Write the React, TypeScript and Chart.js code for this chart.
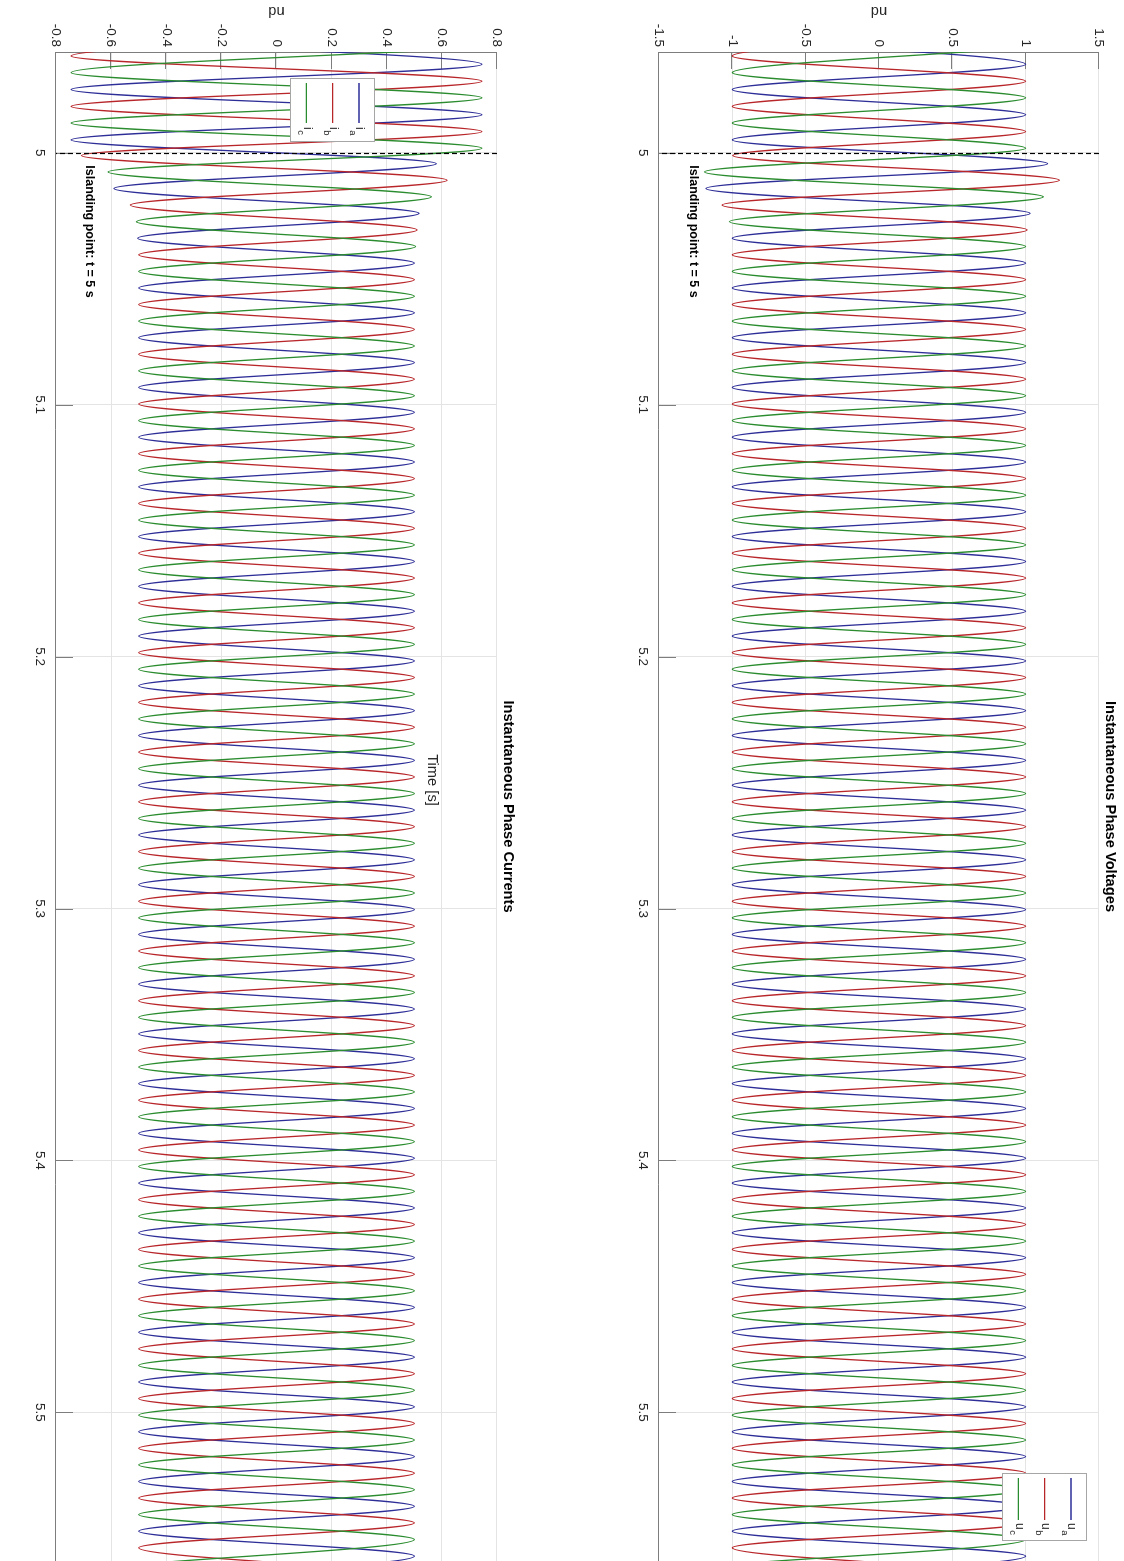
import React, { useEffect, useRef } from "react";
import { Chart, registerables } from "chart.js";

Chart.register(...registerables);

// ---------------- data ----------------
const TIME_TICKS = [5, 5.1, 5.2, 5.3, 5.4, 5.5];
const TIME_TICK_LABELS = ["5", "5.1", "5.2", "5.3", "5.4", "5.5"];
const VOLT_TICKS = [-1.5, -1, -0.5, 0, 0.5, 1, 1.5];
const VOLT_TICK_LABELS = ["-1.5", "-1", "-0.5", "0", "0.5", "1", "1.5"];
const CURR_TICKS = [-0.8, -0.6, -0.4, -0.2, 0, 0.2, 0.4, 0.6, 0.8];
const CURR_TICK_LABELS = ["-0.8", "-0.6", "-0.4", "-0.2", "0", "0.2", "0.4", "0.6", "0.8"];
const TIME_RANGE = [4.96, 5.559];
const VOLT_RANGE = [-1.5, 1.5];
const CURR_RANGE = [-0.8, 0.8];
const ISLANDING_TIME = 5;
const NOTE_TEXT = "Islanding point: t = 5 s";
const NOTE_POS_VOLT = [5.005, -1.265];
const NOTE_POS_CURR = [5.005, -0.68];
const TIME_LABEL = "Time [s]";
const PHASE_KEYS = ["a", "b", "c"];

// times (s) of the successive peaks / troughs of each phase
const PHASE_A_TIMES = [
  4.9549, 4.9649, 4.9749, 4.9849, 4.9949,
  5.00432, 5.01419, 5.02406, 5.03393, 5.0438, 5.05367, 5.06354, 5.07341, 5.08328, 5.09315,
  5.10302, 5.11289, 5.12276, 5.13263, 5.1425, 5.15237, 5.16224, 5.17211, 5.18198, 5.19185,
  5.20172, 5.21159, 5.22146, 5.23133, 5.2412, 5.25107, 5.26094, 5.27081, 5.28068, 5.29055,
  5.30042, 5.31029, 5.32016, 5.33003, 5.3399, 5.34977, 5.35964, 5.36951, 5.37938, 5.38925,
  5.39912, 5.40899, 5.41886, 5.42873, 5.4386, 5.44847, 5.45834, 5.46821, 5.47808, 5.48795,
  5.49782, 5.50769, 5.51756, 5.52743, 5.5373, 5.54717, 5.55704, 5.56691,
];
const PHASE_B_TIMES = [
  4.9516, 4.9616, 4.9716, 4.9816, 4.9916, 5.0011,
  5.0109, 5.02077, 5.03064, 5.04051, 5.05038, 5.06025, 5.07012, 5.07999, 5.08986, 5.09973,
  5.1096, 5.11947, 5.12934, 5.13921, 5.14908, 5.15895, 5.16882, 5.17869, 5.18856, 5.19843,
  5.2083, 5.21817, 5.22804, 5.23791, 5.24778, 5.25765, 5.26752, 5.27739, 5.28726, 5.29713,
  5.307, 5.31687, 5.32674, 5.33661, 5.34648, 5.35635, 5.36622, 5.37609, 5.38596, 5.39583,
  5.4057, 5.41557, 5.42544, 5.43531, 5.44518, 5.45505, 5.46492, 5.47479, 5.48466, 5.49453,
  5.5044, 5.51427, 5.52414, 5.53401, 5.54388, 5.55375, 5.56362,
];
const PHASE_C_TIMES = [
  4.9582, 4.9682, 4.9782, 4.9882, 4.9982,
  5.00761, 5.01748, 5.02735, 5.03722, 5.04709, 5.05696, 5.06683, 5.0767, 5.08657, 5.09644,
  5.10631, 5.11618, 5.12605, 5.13592, 5.14579, 5.15566, 5.16553, 5.1754, 5.18527, 5.19514,
  5.20501, 5.21488, 5.22475, 5.23462, 5.24449, 5.25436, 5.26423, 5.2741, 5.28397, 5.29384,
  5.30371, 5.31358, 5.32345, 5.33332, 5.34319, 5.35306, 5.36293, 5.3728, 5.38267, 5.39254,
  5.40241, 5.41228, 5.42215, 5.43202, 5.44189, 5.45176, 5.46163, 5.4715, 5.48137, 5.49124,
  5.50111, 5.51098, 5.52085, 5.53072, 5.54059, 5.55046, 5.56033,
];

// voltage peak values (pu)
const VOLT_A = [
  -1, 1, -1, 1, -1,
  1.15, -1.18, 1.03, -1, 1, -1, 1, -1, 1, -1,
  1, -1, 1, -1, 1, -1, 1, -1, 1, -1,
  1, -1, 1, -1, 1, -1, 1, -1, 1, -1,
  1, -1, 1, -1, 1, -1, 1, -1, 1, -1,
  1, -1, 1, -1, 1, -1, 1, -1, 1, -1,
  1, -1, 1, -1, 1, -1, 1, -1,
];
const VOLT_B = [
  1, -1, 1, -1, 1, -0.997,
  1.23, -1.07, 1.01, -1, 1, -1, 1, -1, 1, -1,
  1, -1, 1, -1, 1, -1, 1, -1, 1, -1,
  1, -1, 1, -1, 1, -1, 1, -1, 1, -1,
  1, -1, 1, -1, 1, -1, 1, -1, 1, -1,
  1, -1, 1, -1, 1, -1, 1, -1, 1, -1,
  1, -1, 1, -1, 1, -1, 1,
];
const VOLT_C = [
  1, -1, 1, -1, 1,
  -1.19, 1.12, -1.02, 1, -1, 1, -1, 1, -1, 1,
  -1, 1, -1, 1, -1, 1, -1, 1, -1, 1,
  -1, 1, -1, 1, -1, 1, -1, 1, -1, 1,
  -1, 1, -1, 1, -1, 1, -1, 1, -1, 1,
  -1, 1, -1, 1, -1, 1, -1, 1, -1, 1,
  -1, 1, -1, 1, -1, 1, -1,
];

// current peak values (pu)
const CURR_A = [
  -0.745, 0.745, -0.745, 0.745, -0.745,
  0.58, -0.59, 0.517, -0.504, 0.5, -0.5, 0.5, -0.5, 0.5, -0.5,
  0.5, -0.5, 0.5, -0.5, 0.5, -0.5, 0.5, -0.5, 0.5, -0.5,
  0.5, -0.5, 0.5, -0.5, 0.5, -0.5, 0.5, -0.5, 0.5, -0.5,
  0.5, -0.5, 0.5, -0.5, 0.5, -0.5, 0.5, -0.5, 0.5, -0.5,
  0.5, -0.5, 0.5, -0.5, 0.5, -0.5, 0.5, -0.5, 0.5, -0.5,
  0.5, -0.5, 0.5, -0.5, 0.5, -0.5, 0.5, -0.5,
];
const CURR_B = [
  0.745, -0.745, 0.745, -0.745, 0.745, -0.708,
  0.619, -0.53, 0.51, -0.5, 0.5, -0.5, 0.5, -0.5, 0.5, -0.5,
  0.5, -0.5, 0.5, -0.5, 0.5, -0.5, 0.5, -0.5, 0.5, -0.5,
  0.5, -0.5, 0.5, -0.5, 0.5, -0.5, 0.5, -0.5, 0.5, -0.5,
  0.5, -0.5, 0.5, -0.5, 0.5, -0.5, 0.5, -0.5, 0.5, -0.5,
  0.5, -0.5, 0.5, -0.5, 0.5, -0.5, 0.5, -0.5, 0.5, -0.5,
  0.5, -0.5, 0.5, -0.5, 0.5, -0.5, 0.5,
];
const CURR_C = [
  0.745, -0.745, 0.745, -0.745, 0.745,
  -0.611, 0.562, -0.508, 0.505, -0.5, 0.5, -0.5, 0.5, -0.5, 0.5,
  -0.5, 0.5, -0.5, 0.5, -0.5, 0.5, -0.5, 0.5, -0.5, 0.5,
  -0.5, 0.5, -0.5, 0.5, -0.5, 0.5, -0.5, 0.5, -0.5, 0.5,
  -0.5, 0.5, -0.5, 0.5, -0.5, 0.5, -0.5, 0.5, -0.5, 0.5,
  -0.5, 0.5, -0.5, 0.5, -0.5, 0.5, -0.5, 0.5, -0.5, 0.5,
  -0.5, 0.5, -0.5, 0.5, -0.5, 0.5, -0.5,
];

// ---------------- styles / layout ----------------
const FONT = "'Liberation Sans', Arial, Helvetica, sans-serif";
const PHASE_COLORS = ["#2e2e98", "#b8262a", "#2a8c2e"];
const GRID_COLOR = "#e4e4e4";
const AXIS_COLOR = "#7d7d7d";
const TEXT_COLOR = "#262626";
const FIG_W = 1561;
const FIG_H = 1124;
const PANEL_H = 562;
const Y_AXIS_W = 52;
const TICK_LEN = 17;

type Panel = any;

const VOLT_PANEL: Panel = {
  title: "Instantaneous Phase Voltages",
  symbol: "u",
  yTicks: VOLT_TICKS,
  yLabels: VOLT_TICK_LABELS,
  yRange: VOLT_RANGE,
  values: [VOLT_A, VOLT_B, VOLT_C],
  note: NOTE_POS_VOLT,
  padTop: 25,
  xAxisH: 97,
  xLabel: null,
  legend: { x: 1473, y: 37, w: 67, h: 84, l0: 1478, l1: 1520, tx: 1523, rows: [16, 42.3, 68.6] },
};

const CURR_PANEL: Panel = {
  title: "Instantaneous Phase Currents",
  symbol: "i",
  yTicks: CURR_TICKS,
  yLabels: CURR_TICK_LABELS,
  yRange: CURR_RANGE,
  values: [CURR_A, CURR_B, CURR_C],
  note: NOTE_POS_CURR,
  padTop: 65,
  xAxisH: 56,
  xLabel: { text: TIME_LABEL, x: 780, y: 130 },
  legend: { x: 78, y: 187, w: 63, h: 84, l0: 83, l1: 123, tx: 127, rows: [16, 42.3, 68.6] },
};

const PHASE_TIMES = [PHASE_A_TIMES, PHASE_B_TIMES, PHASE_C_TIMES];

function overlayPlugin(p: Panel) {
  return {
    id: "overlay",
    beforeDatasetsDraw(chart: any) {
      const { ctx, chartArea: a, scales } = chart;
      const x = scales.x;
      const y = scales.y;
      ctx.save();
      ctx.strokeStyle = AXIS_COLOR;
      ctx.lineWidth = 1;
      ctx.beginPath();
      for (const t of TIME_TICKS) {
        const px = Math.round(x.getPixelForValue(t)) + 0.5;
        ctx.moveTo(px, a.bottom);
        ctx.lineTo(px, a.bottom - TICK_LEN);
      }
      for (const v of p.yTicks) {
        const py = Math.round(y.getPixelForValue(v)) + 0.5;
        ctx.moveTo(a.left, py);
        ctx.lineTo(a.left + TICK_LEN, py);
      }
      ctx.stroke();
      ctx.restore();
    },
    afterDatasetsDraw(chart: any) {
      const { ctx, chartArea: a, scales } = chart;
      const x = scales.x;
      const y = scales.y;
      ctx.save();
      // islanding dashed line
      const xi = Math.round(x.getPixelForValue(ISLANDING_TIME)) + 0.5;
      ctx.strokeStyle = "#000";
      ctx.lineWidth = 1.2;
      ctx.setLineDash([5, 3]);
      ctx.beginPath();
      ctx.moveTo(xi, a.top);
      ctx.lineTo(xi, a.bottom);
      ctx.stroke();
      ctx.setLineDash([]);
      // annotation
      ctx.fillStyle = "#000";
      ctx.font = `bold 12.5px ${FONT}`;
      ctx.textAlign = "left";
      ctx.textBaseline = "middle";
      ctx.fillText(NOTE_TEXT, x.getPixelForValue(p.note[0]), y.getPixelForValue(p.note[1]));
      // legend
      const L = p.legend;
      ctx.fillStyle = "#fff";
      ctx.fillRect(L.x, L.y, L.w, L.h);
      ctx.strokeStyle = "#a6a6a6";
      ctx.lineWidth = 1;
      ctx.strokeRect(L.x + 0.5, L.y + 0.5, L.w, L.h);
      PHASE_KEYS.forEach((k, i) => {
        const ry = L.y + L.rows[i];
        ctx.strokeStyle = PHASE_COLORS[i];
        ctx.lineWidth = 1.3;
        ctx.beginPath();
        ctx.moveTo(L.l0, ry);
        ctx.lineTo(L.l1, ry);
        ctx.stroke();
        ctx.fillStyle = TEXT_COLOR;
        ctx.textBaseline = "alphabetic";
        ctx.font = `12px ${FONT}`;
        ctx.fillText(p.symbol, L.tx, ry + 2.5);
        const w = ctx.measureText(p.symbol).width;
        ctx.font = `9.5px ${FONT}`;
        ctx.fillText(k, L.tx + w + 0.5, ry + 8.5);
      });
      ctx.restore();
    },
    afterDraw(chart: any) {
      const { ctx, chartArea: a } = chart;
      ctx.save();
      ctx.fillStyle = "#000";
      ctx.font = `bold 14.7px ${FONT}`;
      ctx.textAlign = "center";
      ctx.textBaseline = "middle";
      ctx.fillText(p.title, (a.left + a.right) / 2, a.top - 11.5);
      if (p.xLabel) {
        ctx.fillStyle = TEXT_COLOR;
        ctx.font = `14.7px ${FONT}`;
        ctx.fillText(p.xLabel.text, p.xLabel.x, p.xLabel.y);
      }
      ctx.restore();
    },
  };
}

function makeChart(canvas: HTMLCanvasElement, p: Panel) {
  const datasets = [0, 1, 2].map((k) => ({
    label: p.symbol + PHASE_KEYS[k],
    data: PHASE_TIMES[k].map((t: number, i: number) => ({ x: t, y: p.values[k][i] })),
    borderColor: PHASE_COLORS[k],
    borderWidth: 1.3,
    pointRadius: 0,
    fill: false,
    cubicInterpolationMode: "monotone",
    order: 3 - k,
  }));
  const cfg: any = {
    type: "line",
    data: { datasets },
    options: {
      responsive: false,
      animation: false,
      devicePixelRatio: 1,
      events: [],
      layout: { padding: { top: p.padTop, left: 0, right: 0, bottom: 0 } },
      elements: { line: { capBezierPoints: false } },
      plugins: {
        legend: { display: false },
        title: { display: false },
        tooltip: { enabled: false },
      },
      scales: {
        x: {
          type: "linear",
          position: "bottom",
          min: TIME_RANGE[0],
          max: TIME_RANGE[1],
          afterBuildTicks: (s: any) => {
            s.ticks = TIME_TICKS.map((v) => ({ value: v }));
          },
          afterFit: (s: any) => {
            s.height = p.xAxisH;
          },
          grid: { color: GRID_COLOR, lineWidth: 1, drawTicks: false },
          border: { display: true, color: AXIS_COLOR, width: 1 },
          ticks: {
            color: TEXT_COLOR,
            font: { family: FONT, size: 13.5 },
            padding: 8,
            maxRotation: 0,
            minRotation: 0,
            autoSkip: false,
            callback: (_v: any, i: number) => TIME_TICK_LABELS[i],
          },
        },
        y: {
          type: "linear",
          position: "left",
          min: p.yRange[0],
          max: p.yRange[1],
          afterBuildTicks: (s: any) => {
            s.ticks = p.yTicks.map((v: number) => ({ value: v }));
          },
          afterFit: (s: any) => {
            s.width = Y_AXIS_W;
          },
          grid: { color: GRID_COLOR, lineWidth: 1, drawTicks: false },
          border: { display: true, color: AXIS_COLOR, width: 1 },
          ticks: {
            color: TEXT_COLOR,
            font: { family: FONT, size: 13.5 },
            padding: 5,
            autoSkip: false,
            callback: (_v: any, i: number) => p.yLabels[i],
          },
          title: {
            display: true,
            text: "pu",
            color: TEXT_COLOR,
            font: { family: FONT, size: 14.7 },
            padding: { top: 2, bottom: 0 },
          },
        },
      },
    },
    plugins: [overlayPlugin(p)],
  };
  return new Chart(canvas, cfg);
}

export default function App() {
  const vRef = useRef<HTMLCanvasElement>(null);
  const iRef = useRef<HTMLCanvasElement>(null);

  useEffect(() => {
    Chart.defaults.font.family = FONT;
    const charts = [makeChart(vRef.current!, VOLT_PANEL), makeChart(iRef.current!, CURR_PANEL)];
    return () => charts.forEach((c) => c.destroy());
  }, []);

  return (
    <div
      style={{
        position: "fixed",
        left: 0,
        top: 0,
        width: FIG_H,
        height: FIG_W,
        overflow: "hidden",
        background: "#fff",
      }}
    >
      <div
        style={{
          position: "absolute",
          left: 0,
          top: 0,
          width: FIG_W,
          height: FIG_H,
          transformOrigin: "0 0",
          transform: `translate(${FIG_H}px, 0px) rotate(90deg)`,
        }}
      >
        <div style={{ position: "absolute", left: 0, top: 0, width: FIG_W, height: PANEL_H }}>
          <canvas ref={vRef} width={FIG_W} height={PANEL_H} style={{ display: "block" }} />
        </div>
        <div style={{ position: "absolute", left: 0, top: PANEL_H, width: FIG_W, height: PANEL_H }}>
          <canvas ref={iRef} width={FIG_W} height={PANEL_H} style={{ display: "block" }} />
        </div>
      </div>
    </div>
  );
}
